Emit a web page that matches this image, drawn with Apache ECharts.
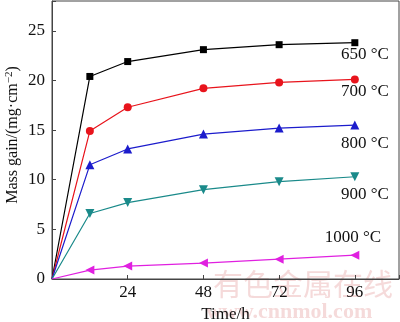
<!DOCTYPE html>
<html><head><meta charset="utf-8">
<script src="https://cdn.jsdelivr.net/npm/echarts@6/dist/echarts.min.js"></script>
<style>html,body{margin:0;padding:0;background:#fff}#c{width:400px;height:322px}</style>
</head><body><div id="c"></div>
<script>
const times = [0, 12, 24, 48, 72, 96];
const s650 = [0, 20.4, 21.9, 23.1, 23.6, 23.8];
const s700 = [0, 14.9, 17.3, 19.2, 19.8, 20.1];
const s800 = [0, 11.5, 13.1, 14.6, 15.2, 15.5];
const s900 = [0, 6.6, 7.7, 9.0, 9.8, 10.3];
const s1000 = [0, 0.9, 1.3, 1.6, 2.0, 2.4];
const seriesNames = ['650 °C', '700 °C', '800 °C', '900 °C', '1000 °C'];
const xTicks = [24, 48, 72, 96];
const yTicks = [0, 5, 10, 15, 20, 25];

const font = 'Liberation Serif, Times New Roman, serif';
const colors = ['#000000', '#e8141c', '#1c1ccc', '#1a8a8a', '#e020e0'];
const symbols = ['rect', 'circle', 'triangle', 'triangle', 'triangle'];
const rot = [0, 0, 0, 180, 90];
const sizes = [7, 8, 9, 9, 9];
const labelOffsets = [[10, 12], [10, 12], [10, 18], [10, 18], [-2, -18]];
const all = [s650, s700, s800, s900, s1000];
const fs = 17;

const chart = echarts.init(document.getElementById('c'));
chart.setOption({
  animation: false,
  grid: {left: 52, top: 1, right: 1, bottom: 43, show: true, borderColor: '#444', borderWidth: 1,
         outerBoundsMode: 'none', containLabel: false},
  xAxis: {
    type: 'value', min: 0, max: 110, interval: 24,
    name: 'Time/h', nameLocation: 'middle', nameGap: 25,
    nameTextStyle: {fontFamily: font, fontSize: fs, color: '#111'},
    axisLine: {lineStyle: {color: '#444'}},
    axisTick: {inside: true, length: 4, lineStyle: {color: '#444'}},
    splitLine: {show: false},
    axisLabel: {fontFamily: font, fontSize: fs, color: '#111', margin: 5,
      formatter: v => xTicks.includes(v) ? String(v) : ''}
  },
  yAxis: {
    type: 'value', min: 0, max: 28, interval: 5,
    axisLine: {lineStyle: {color: '#444'}},
    axisTick: {inside: true, length: 4, lineStyle: {color: '#444'}},
    splitLine: {show: false},
    axisLabel: {fontFamily: font, fontSize: fs, color: '#111', margin: 7,
      formatter: v => yTicks.includes(v) ? String(v) : ''}
  },
  graphic: [
    {type: 'text', left: 213, top: 269, silent: true, z: -1,
     style: {text: '有色金属在线', fontFamily: 'Noto Sans CJK SC', fontSize: 30, fill: 'rgba(225,140,140,0.32)'}},
    {type: 'text', left: 206, top: 301, silent: true, z: -1,
     style: {text: 'www.cnnmol.com', fontFamily: font, fontWeight: 'bold', fontSize: 22, fill: 'rgba(225,140,140,0.32)'}},
    {type: 'text', x: 13, y: 135, rotation: Math.PI / 2, silent: true,
     style: {text: '{a|Mass gain/(mg·cm}{s|−2}{a|)}', align: 'center', verticalAlign: 'middle',
       rich: {a: {fontFamily: font, fontSize: 16, fill: '#111'},
              s: {fontFamily: font, fontSize: 11, fill: '#111', verticalAlign: 'top', padding: [0, 0, 8, 0]}}}}
  ],
  series: all.map((arr, i) => ({
    type: 'line', name: seriesNames[i],
    data: times.map((t, j) => {
      const d = {value: [t, arr[j]]};
      if (j === 0) d.symbol = 'none';
      if (j === times.length - 1) d.label = {show: true, formatter: seriesNames[i], position: 'inside', offset: labelOffsets[i],
        fontFamily: font, fontSize: fs, color: '#111', align: 'center'};
      return d;
    }),
    symbol: symbols[i], symbolSize: sizes[i], symbolRotate: rot[i],
    showAllSymbol: true,
    lineStyle: {color: colors[i], width: 1.2},
    itemStyle: {color: colors[i]},
    label: {show: false}
  }))
});
</script></body></html>
